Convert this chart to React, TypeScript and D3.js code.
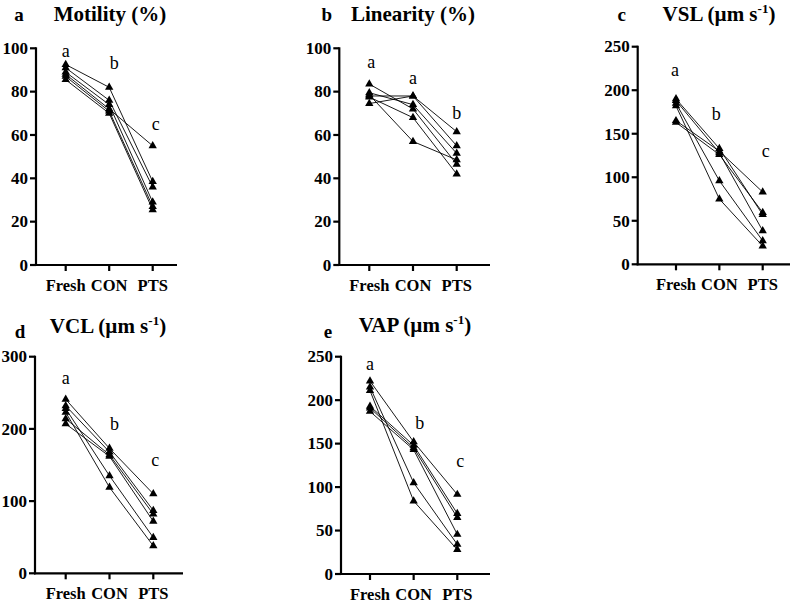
import React from "react";
import * as d3 from "d3";

// Treatment groups along the x axis
const groups = ["Fresh", "CON", "PTS"];

// Per-sample values (one row per sample: Fresh, CON, PTS)
const motility = [
  [92.5, 82, 38.5],
  [91, 76, 36],
  [89, 74, 29],
  [88, 72, 55],
  [87, 71, 27],
  [85.5, 70, 25.5],
];
const linearity = [
  [83.5, 72, 46.5],
  [74.5, 78, 61.5],
  [78, 78, 55],
  [78.5, 57, 48.5],
  [79.5, 74, 51.5],
  [77.5, 68, 42],
];
const vsl = [
  [190, 133, 57],
  [188, 128, 38.5],
  [185, 96, 27],
  [182, 75, 21],
  [165, 130, 83],
  [163, 126, 59.5],
];
const vcl = [
  [241, 173, 110],
  [232, 168, 87],
  [228, 135, 49.5],
  [223, 119, 38],
  [214, 164, 82],
  [207, 162, 72],
];
const vap = [
  [222, 152, 91.5],
  [215, 105, 34],
  [211, 84, 28],
  [193, 148, 69.5],
  [191, 145, 65],
  [187, 143, 45.5],
];

// Axis tick values
const percentTicks = [0, 20, 40, 60, 80, 100];
const vslTicks = [0, 50, 100, 150, 200, 250];
const vclTicks = [0, 100, 200, 300];
const vapTicks = [0, 50, 100, 150, 200, 250];

// Significance letters and the level (in data units) where each sits
const motilityLetters = ["a", "b", "c"];
const motilityLetterLevels = [96, 90.5, 62.3];
const linearityLetters = ["a", "a", "b"];
const linearityLetterLevels = [90.8, 83.5, 67.4];
const vslLetters = ["a", "b", "c"];
const vslLetterLevels = [216, 166, 123];
const vclLetters = ["a", "b", "c"];
const vclLetterLevels = [262, 199, 148];
const vapLetters = ["a", "b", "c"];
const vapLetterLevels = [235, 166.5, 123.5];

const FONT = "'Liberation Serif', 'Times New Roman', serif";

type PanelProps = {
  tag: string;
  title: string;
  sup?: string;
  titleClose?: string;
  rows: number[][];
  ticks: number[];
  letters: string[];
  letterLevels: number[];
  axisX: number;
  firstX: number;
  lastX: number;
  endX: number;
  top: number;
  bottom: number;
  tagX: number;
  tagY: number;
  titleX: number;
  titleY: number;
  letterDx: number[];
};

function Panel(p: PanelProps) {
  const maxV = p.ticks[p.ticks.length - 1];
  const y = d3.scaleLinear().domain([0, maxV]).range([p.bottom, p.top]);
  const x = d3.scalePoint<string>().domain(groups).range([p.firstX, p.lastX]);
  const line = d3
    .line<number>()
    .x((_, i) => x(groups[i]) as number)
    .y((v) => y(v));
  const tri = d3.symbol().type(d3.symbolTriangle).size(30)();

  return (
    <g>
      {/* panel tag and title */}
      <text x={p.tagX} y={p.tagY} fontFamily={FONT} fontWeight="bold" fontSize={19} textAnchor="middle">
        {p.tag}
      </text>
      <text x={p.titleX} y={p.titleY} fontFamily={FONT} fontWeight="bold" fontSize={21} textAnchor="middle">
        {p.title}
        {p.sup ? (
          <>
            <tspan dy={-8} fontSize={13}>{p.sup}</tspan>
            <tspan dy={8}>{p.titleClose}</tspan>
          </>
        ) : null}
      </text>

      {/* y axis */}
      <line x1={p.axisX} x2={p.axisX} y1={p.top - 1} y2={p.bottom + 1} stroke="#000" strokeWidth={2.2} />
      {p.ticks.map((t) => (
        <g key={t}>
          <line x1={p.axisX - 6} x2={p.axisX} y1={y(t)} y2={y(t)} stroke="#000" strokeWidth={2.2} />
          <text
            x={p.axisX - 8}
            y={y(t)}
            dy="0.34em"
            textAnchor="end"
            fontFamily={FONT}
            fontWeight="bold"
            fontSize={17}
          >
            {t}
          </text>
        </g>
      ))}

      {/* x axis */}
      <line x1={p.axisX - 1} x2={p.endX} y1={p.bottom} y2={p.bottom} stroke="#000" strokeWidth={2.2} />
      {groups.map((g) => (
        <g key={g}>
          <line x1={x(g)} x2={x(g)} y1={p.bottom} y2={p.bottom + 6} stroke="#000" strokeWidth={2.2} />
          <text
            x={x(g)}
            y={p.bottom + 25.5}
            textAnchor="middle"
            fontFamily={FONT}
            fontWeight="bold"
            fontSize={16.5}
          >
            {g}
          </text>
        </g>
      ))}

      {/* paired sample lines */}
      {p.rows.map((r, i) => (
        <path key={i} d={line(r) || ""} fill="none" stroke="#000" strokeWidth={0.9} />
      ))}
      {p.rows.map((r, i) =>
        r.map((v, j) => (
          <path key={`${i}-${j}`} d={tri || ""} transform={`translate(${x(groups[j])},${y(v)})`} fill="#000" />
        ))
      )}

      {/* significance letters */}
      {p.letters.map((l, j) => (
        <text
          key={j}
          x={(x(groups[j]) as number) + p.letterDx[j]}
          y={y(p.letterLevels[j])}
          textAnchor="middle"
          fontFamily={FONT}
          fontSize={18}
        >
          {l}
        </text>
      ))}
    </g>
  );
}

export default function App() {
  return (
    <svg
      width={794}
      height={602}
      style={{ position: "absolute", left: 0, top: 0, background: "#fff" }}
    >
      <rect width={794} height={602} fill="#fff" />
      <Panel
        tag="a"
        title="Motility (%)"
        rows={motility}
        ticks={percentTicks}
        letters={motilityLetters}
        letterLevels={motilityLetterLevels}
        axisX={36}
        firstX={65.7}
        lastX={152.7}
        endX={177}
        top={48.3}
        bottom={265}
        tagX={19}
        tagY={21}
        titleX={110}
        titleY={21}
        letterDx={[0, 5, 3]}
      />
      <Panel
        tag="b"
        title="Linearity (%)"
        rows={linearity}
        ticks={percentTicks}
        letters={linearityLetters}
        letterLevels={linearityLetterLevels}
        axisX={339.3}
        firstX={369.3}
        lastX={456.7}
        endX={490}
        top={48.3}
        bottom={265}
        tagX={326.7}
        tagY={21}
        titleX={413}
        titleY={21}
        letterDx={[2, 0, 0]}
      />
      <Panel
        tag="c"
        title="VSL (µm s"
        sup="-1"
        titleClose=")"
        rows={vsl}
        ticks={vslTicks}
        letters={vslLetters}
        letterLevels={vslLetterLevels}
        axisX={637.7}
        firstX={676}
        lastX={762.7}
        endX={790}
        top={46.7}
        bottom={264.3}
        tagX={621.7}
        tagY={21}
        titleX={719}
        titleY={21}
        letterDx={[-1, -3, 3]}
      />
      <Panel
        tag="d"
        title="VCL (µm s"
        sup="-1"
        titleClose=")"
        rows={vcl}
        ticks={vclTicks}
        letters={vclLetters}
        letterLevels={vclLetterLevels}
        axisX={35}
        firstX={65.7}
        lastX={153.3}
        endX={183}
        top={356.7}
        bottom={573.3}
        tagX={20}
        tagY={338}
        titleX={108}
        titleY={333}
        letterDx={[0, 5, 2]}
      />
      <Panel
        tag="e"
        title="VAP (µm s"
        sup="-1"
        titleClose=")"
        rows={vap}
        ticks={vapTicks}
        letters={vapLetters}
        letterLevels={vapLetterLevels}
        axisX={341}
        firstX={370}
        lastX={457.3}
        endX={490}
        top={356.7}
        bottom={574}
        tagX={328}
        tagY={338}
        titleX={415}
        titleY={332}
        letterDx={[0, 6, 3]}
      />
    </svg>
  );
}
